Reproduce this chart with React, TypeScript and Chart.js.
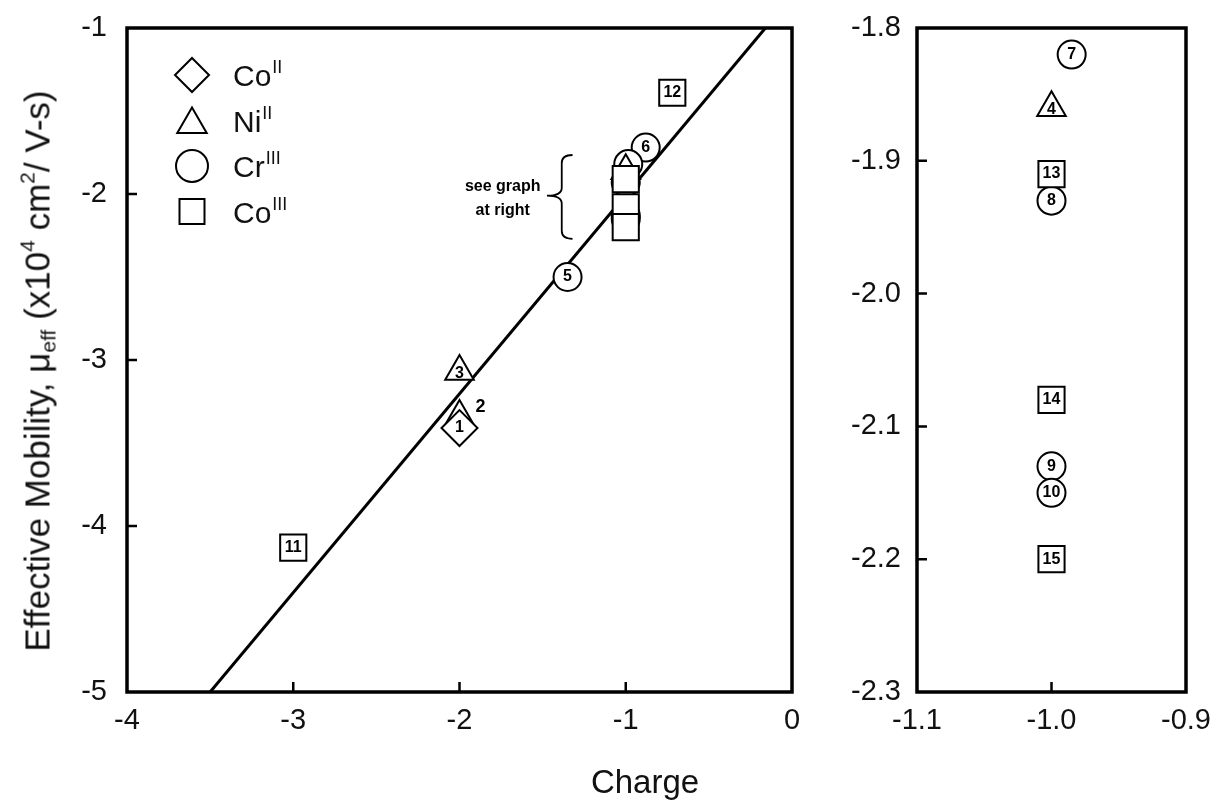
import React, { useEffect, useRef } from 'react';
import { Chart, registerables } from 'chart.js';

Chart.register(...registerables);

// ---------- Data ----------
const coIICharge = [-2.0];
const coIIMobility = [-3.41];
const coIIIds = ['1'];

const niIICharge = [-2.0, -2.0, -1.0];
const niIIMobility = [-3.34, -3.07, -1.86];
const niIIIds = ['2', '3', '4'];

const crIIICharge = [-1.35, -0.88, -0.985, -1.0, -1.0, -1.0];
const crIIIMobility = [-2.5, -1.72, -1.82, -1.93, -2.13, -2.15];
const crIIIIds = ['5', '6', '7', '8', '9', '10'];

const coIIICharge = [-3.0, -0.72, -1.0, -1.0, -1.0];
const coIIIMobility = [-4.13, -1.39, -1.91, -2.08, -2.2];
const coIIIIds = ['11', '12', '13', '14', '15'];

const fitCharge = [-3.5, -0.16];
const fitMobility = [-5.0, -1.0];

// ids shown in the detail panel on the right
const detailIds = ['4', '7', '8', '9', '10', '13', '14', '15'];

const leftXTicks = [-4, -3, -2, -1, 0];
const leftYTicks = [-5, -4, -3, -2, -1];
const rightXTicks = [-1.1, -1.0, -0.9];
const rightYTicks = [-2.3, -2.2, -2.1, -2.0, -1.9, -1.8];

const legendNames = [
  { base: 'Co', sup: 'II', shape: 'diamond' },
  { base: 'Ni', sup: 'II', shape: 'triangle' },
  { base: 'Cr', sup: 'III', shape: 'circle' },
  { base: 'Co', sup: 'III', shape: 'square' },
];

// ---------- Styles ----------
const FONT = '"Liberation Sans", Arial, Helvetica, sans-serif';
const INK = '#111';
const TICK_SIZE = 29;

type Series = {
  charge: number[];
  mobility: number[];
  ids: string[];
  pointStyle: string;
  radius: number;
  order: number;
};

const series: Series[] = [
  { charge: coIIICharge, mobility: coIIIMobility, ids: coIIIIds, pointStyle: 'rect', radius: 18.5, order: 1 },
  { charge: coIICharge, mobility: coIIMobility, ids: coIIIds, pointStyle: 'rectRot', radius: 18, order: 2 },
  { charge: niIICharge, mobility: niIIMobility, ids: niIIIds, pointStyle: 'triangle', radius: 16.5, order: 3 },
  { charge: crIIICharge, mobility: crIIIMobility, ids: crIIIIds, pointStyle: 'circle', radius: 14, order: 4 },
];

function makeDatasets(range: { xmin: number; xmax: number; ymin: number; ymax: number } | null, withFit: boolean) {
  const ds: any[] = series.map((s) => {
    const pts: any[] = [];
    const ids: string[] = [];
    s.charge.forEach((x, i) => {
      const y = s.mobility[i];
      if (range && (x < range.xmin || x > range.xmax || y < range.ymin || y > range.ymax)) return;
      pts.push({ x, y });
      ids.push(s.ids[i]);
    });
    return {
      type: 'scatter',
      data: pts,
      ids,
      pointStyle: s.pointStyle,
      pointRadius: s.radius,
      pointBorderWidth: 2,
      pointBorderColor: '#000',
      pointBackgroundColor: '#fff',
      order: s.order,
      labelDy: s.pointStyle === 'triangle' ? 2 : 0,
    };
  });
  if (withFit) {
    ds.push({
      type: 'line',
      data: fitCharge.map((x, i) => ({ x, y: fitMobility[i] })),
      borderColor: '#000',
      borderWidth: 3,
      pointRadius: 0,
      order: 10,
    });
  }
  return ds;
}

const framePlugin = {
  id: 'frame',
  afterDraw(chart: any) {
    const { ctx, chartArea: a } = chart;
    const xs = chart.scales.x;
    const ys = chart.scales.y;
    ctx.save();
    ctx.strokeStyle = '#000';
    ctx.lineWidth = 2.5;
    ctx.beginPath();
    xs.ticks.forEach((t: any) => {
      const p = xs.getPixelForValue(t.value);
      if (p > a.left + 3 && p < a.right - 3) {
        ctx.moveTo(p, a.bottom);
        ctx.lineTo(p, a.bottom - 10);
      }
    });
    ys.ticks.forEach((t: any) => {
      const p = ys.getPixelForValue(t.value);
      if (p > a.top + 3 && p < a.bottom - 3) {
        ctx.moveTo(a.left, p);
        ctx.lineTo(a.left + 10, p);
      }
    });
    ctx.stroke();
    ctx.lineWidth = 3.5;
    ctx.strokeRect(a.left, a.top, a.right - a.left, a.bottom - a.top);
    ctx.restore();
  },
};

const idLabelPlugin = {
  id: 'idLabels',
  afterDatasetsDraw(chart: any, _args: any, opts: any) {
    const { ctx } = chart;
    ctx.save();
    ctx.fillStyle = '#000';
    ctx.textAlign = 'center';
    ctx.textBaseline = 'middle';
    chart.data.datasets.forEach((ds: any, di: number) => {
      if (!ds.ids) return;
      const meta = chart.getDatasetMeta(di);
      meta.data.forEach((el: any, i: number) => {
        const id = ds.ids[i];
        if (opts.hide && opts.hide.includes(id)) return;
        const custom = opts.offsets && opts.offsets[id];
        const off = custom || [0, ds.labelDy || 0];
        ctx.font = custom ? `bold 18px ${FONT}` : `bold 16px ${FONT}`;
        ctx.fillText(id, el.x + off[0], el.y + off[1]);
      });
    });
    ctx.restore();
  },
};

const legendPlugin = {
  id: 'customLegend',
  afterDraw(chart: any, _args: any, opts: any) {
    if (!opts || !opts.items) return;
    const { ctx } = chart;
    ctx.save();
    ctx.strokeStyle = '#000';
    ctx.lineWidth = 2;
    opts.items.forEach((it: any, i: number) => {
      const cx = opts.x;
      const cy = opts.y + i * opts.gap;
      ctx.fillStyle = '#fff';
      ctx.beginPath();
      if (it.shape === 'diamond') {
        const r = 17;
        ctx.moveTo(cx, cy - r);
        ctx.lineTo(cx + r, cy);
        ctx.lineTo(cx, cy + r);
        ctx.lineTo(cx - r, cy);
        ctx.closePath();
      } else if (it.shape === 'triangle') {
        const r = 17;
        const c = cy + 4;
        ctx.moveTo(cx, c - r);
        ctx.lineTo(cx + r * 0.866, c + r / 2);
        ctx.lineTo(cx - r * 0.866, c + r / 2);
        ctx.closePath();
      } else if (it.shape === 'circle') {
        ctx.arc(cx, cy, 16, 0, Math.PI * 2);
      } else {
        ctx.rect(cx - 12.5, cy - 12.5, 25, 25);
      }
      ctx.fill();
      ctx.stroke();
      ctx.fillStyle = INK;
      ctx.textAlign = 'left';
      ctx.textBaseline = 'alphabetic';
      ctx.font = `30px ${FONT}`;
      const tx = opts.textX;
      const base = cy + 11;
      ctx.fillText(it.base, tx, base);
      const w = ctx.measureText(it.base).width;
      ctx.font = `18px ${FONT}`;
      ctx.fillText(it.sup, tx + w + 1, base - 13);
    });
    ctx.restore();
  },
};

const notePlugin = {
  id: 'note',
  afterDraw(chart: any, _args: any, opts: any) {
    if (!opts || !opts.brace) return;
    const { ctx } = chart;
    const xs = chart.scales.x;
    const ys = chart.scales.y;
    const b = opts.brace;
    const xt = xs.getPixelForValue(b.tipX);
    const xe = xs.getPixelForValue(b.endX);
    const xm = (xt + xe) / 2 + 2;
    const yTop = ys.getPixelForValue(b.top);
    const yBot = ys.getPixelForValue(b.bottom);
    const yMid = ys.getPixelForValue(b.mid);
    ctx.save();
    ctx.strokeStyle = '#000';
    ctx.lineWidth = 1.8;
    ctx.beginPath();
    ctx.moveTo(xe, yTop);
    ctx.quadraticCurveTo(xm, yTop, xm, yTop + 8);
    ctx.lineTo(xm, yMid - 8);
    ctx.quadraticCurveTo(xm, yMid, xt, yMid);
    ctx.quadraticCurveTo(xm, yMid, xm, yMid + 8);
    ctx.lineTo(xm, yBot - 8);
    ctx.quadraticCurveTo(xm, yBot, xe, yBot);
    ctx.stroke();
    ctx.fillStyle = '#000';
    ctx.font = `bold 16px ${FONT}`;
    ctx.textAlign = 'center';
    ctx.textBaseline = 'middle';
    const tx = xs.getPixelForValue(opts.textX);
    opts.lines.forEach((ln: string, i: number) => {
      ctx.fillText(ln, tx, ys.getPixelForValue(opts.textY[i]));
    });
    ctx.restore();
  },
};

function axisOpts(
  min: number,
  max: number,
  tickVals: number[],
  decimals: number,
  padding: number,
  fitSize: number,
  isY: boolean
) {
  return {
    type: 'linear',
    min,
    max,
    afterBuildTicks: (scale: any) => {
      scale.ticks = tickVals.map((v) => ({ value: v }));
    },
    afterFit: (scale: any) => {
      if (isY) scale.width = fitSize;
      else scale.height = fitSize;
      scale.paddingTop = 0;
      scale.paddingBottom = 0;
      scale.paddingLeft = 0;
      scale.paddingRight = 0;
    },
    grid: { display: false, drawTicks: false },
    border: { display: false },
    ticks: {
      padding,
      color: INK,
      font: { family: FONT, size: TICK_SIZE },
      autoSkip: false,
      maxRotation: 0,
      callback: (v: any) => (decimals ? Number(v).toFixed(decimals) : String(Math.round(Number(v)))),
    },
  };
}

function useChart(ref: React.RefObject<HTMLCanvasElement>, build: () => any) {
  useEffect(() => {
    if (!ref.current) return;
    const chart = new Chart(ref.current, build());
    return () => chart.destroy();
  }, []);
}

export default function App() {
  const leftRef = useRef<HTMLCanvasElement>(null);
  const rightRef = useRef<HTMLCanvasElement>(null);

  useChart(leftRef, () => ({
    type: 'scatter',
    data: { datasets: makeDatasets(null, true) },
    plugins: [framePlugin, idLabelPlugin, legendPlugin, notePlugin],
    options: {
      responsive: false,
      animation: false,
      events: [],
      layout: { padding: { top: 28, right: 48, left: 0, bottom: 0 } },
      scales: {
        x: axisOpts(-4, 0, leftXTicks, 0, 12, 111, false),
        y: axisOpts(-5, -1, leftYTicks, 0, 20, 127, true),
      },
      plugins: {
        legend: { display: false },
        tooltip: { enabled: false },
        idLabels: { hide: detailIds, offsets: { '2': [21, -9] } },
        customLegend: { items: legendNames, x: 192, y: 75, gap: 45.5, textX: 233 },
        note: {
          brace: { tipX: -1.474, endX: -1.32, top: -1.765, mid: -2.01, bottom: -2.27 },
          textX: -1.74,
          textY: [-1.955, -2.1],
          lines: ['see graph', 'at right'],
        },
      },
    },
  }));

  useChart(rightRef, () => ({
    type: 'scatter',
    data: { datasets: makeDatasets({ xmin: -1.1, xmax: -0.9, ymin: -2.3, ymax: -1.8 }, false) },
    plugins: [framePlugin, idLabelPlugin],
    options: {
      responsive: false,
      animation: false,
      events: [],
      layout: { padding: { top: 28, right: 30, left: 0, bottom: 0 } },
      scales: {
        x: axisOpts(-1.1, -0.9, rightXTicks, 1, 12, 111, false),
        y: axisOpts(-2.3, -1.8, rightYTicks, 1, 16, 77, true),
      },
      plugins: {
        legend: { display: false },
        tooltip: { enabled: false },
        idLabels: { hide: [], offsets: {} },
      },
    },
  }));

  const supStyle: React.CSSProperties = { fontSize: '0.6em', position: 'relative', top: '-0.7em' };
  const subStyle: React.CSSProperties = { fontSize: '0.6em', position: 'relative', top: '0.3em' };

  return (
    <div style={{ position: 'absolute', left: 0, top: 0, width: 1216, height: 803, background: '#fff', overflow: 'hidden' }}>
      <canvas ref={leftRef} width={840} height={803} style={{ position: 'absolute', left: 0, top: 0 }} />
      <canvas ref={rightRef} width={376} height={803} style={{ position: 'absolute', left: 840, top: 0 }} />
      <div
        style={{
          position: 'absolute',
          left: 37,
          top: 371,
          transform: 'translate(-50%, -50%) rotate(-90deg)',
          whiteSpace: 'nowrap',
          fontFamily: FONT,
          fontSize: 35,
          lineHeight: 1,
          color: INK,
        }}
      >
        Effective Mobility, μ<span style={subStyle}>eff</span> (x10<span style={supStyle}>4</span> cm
        <span style={supStyle}>2</span>/ V-s)
      </div>
      <div
        style={{
          position: 'absolute',
          left: 645,
          top: 781,
          transform: 'translate(-50%, -50%)',
          whiteSpace: 'nowrap',
          fontFamily: FONT,
          fontSize: 33,
          lineHeight: 1,
          color: INK,
        }}
      >
        Charge
      </div>
    </div>
  );
}
